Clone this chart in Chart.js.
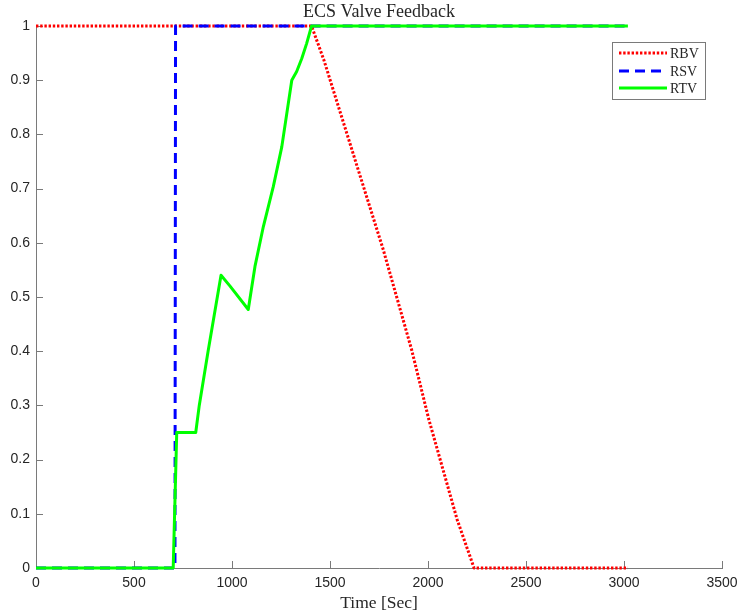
<!DOCTYPE html>
<html>
<head>
<meta charset="utf-8">
<title>ECS Valve Feedback</title>
<script src="https://cdn.jsdelivr.net/npm/chart.js@4/dist/chart.umd.min.js"></script>
<style>
  html, body { margin: 0; padding: 0; background: #ffffff; }
  #wrap { width: 737px; height: 614px; }
</style>
</head>
<body>
<div id="wrap"><canvas id="chart" width="737" height="614"></canvas></div>
<script>
// Valve feedback traces: time in seconds, position 0 (closed) .. 1 (open)
const rbvTime  = [0, 1406, 1469, 1628, 1772, 1917, 2005, 2149, 2235, 3020];
const rbvValue = [1, 1, 0.937, 0.753, 0.587, 0.402, 0.273, 0.089, 0, 0];

const rsvTime  = [0, 709, 712, 3020];
const rsvValue = [0, 0, 1, 1];

const rtvTime  = [0, 700, 718, 815, 833, 878, 944, 990, 1083, 1117, 1160, 1211, 1254, 1305, 1330, 1356, 1381, 1406, 3020];
const rtvValue = [0, 0, 0.25, 0.25, 0.30, 0.40, 0.54, 0.52, 0.477, 0.556, 0.630, 0.704, 0.777, 0.900, 0.916, 0.940, 0.968, 1, 1];

const xTicks = [0, 500, 1000, 1500, 2000, 2500, 3000, 3500];
const yTicks = [0, 0.1, 0.2, 0.3, 0.4, 0.5, 0.6, 0.7, 0.8, 0.9, 1];
const yTickLabels = ['0', '0.1', '0.2', '0.3', '0.4', '0.5', '0.6', '0.7', '0.8', '0.9', '1'];

const toPoints = (t, v) => t.map((x, i) => ({ x: x, y: v[i] }));

const AXIS_COLOR = '#7a7a7a';
const TEXT_COLOR = '#262626';
const SERIF = '"Liberation Serif", "Times New Roman", serif';
const SANS = '"Liberation Sans", Arial, Helvetica, sans-serif';

// Short tick marks pointing into the plot area, as in MATLAB-style axes
const inwardTicks = {
  id: 'inwardTicks',
  beforeDatasetsDraw(chart) {
    const { ctx, chartArea, scales } = chart;
    ctx.save();
    ctx.strokeStyle = AXIS_COLOR;
    ctx.lineWidth = 1;
    ctx.beginPath();
    scales.x.ticks.forEach(t => {
      const px = Math.round(scales.x.getPixelForValue(t.value)) + 0.5;
      ctx.moveTo(px, chartArea.bottom);
      ctx.lineTo(px, chartArea.bottom - 7);
    });
    scales.y.ticks.forEach(t => {
      const py = Math.round(scales.y.getPixelForValue(t.value)) + 0.5;
      ctx.moveTo(chartArea.left, py);
      ctx.lineTo(chartArea.left + 7, py);
    });
    ctx.stroke();
    ctx.restore();
  }
};

// Boxed legend in the upper right corner of the plot
const boxedLegend = {
  id: 'boxedLegend',
  afterDraw(chart) {
    const { ctx } = chart;
    const box = { x: 612, y: 42, w: 93, h: 57 };
    ctx.save();
    ctx.fillStyle = '#ffffff';
    ctx.fillRect(box.x, box.y, box.w, box.h);
    ctx.strokeStyle = AXIS_COLOR;
    ctx.lineWidth = 1;
    ctx.strokeRect(box.x + 0.5, box.y + 0.5, box.w, box.h);
    const rows = [53, 71, 88];
    ctx.font = '14px ' + SERIF;
    ctx.textBaseline = 'middle';
    ctx.textAlign = 'left';
    chart.data.datasets.forEach((ds, i) => {
      const y = rows[i];
      ctx.strokeStyle = ds.borderColor;
      ctx.lineWidth = ds.borderWidth;
      ctx.setLineDash(ds.borderDash || []);
      ctx.beginPath();
      ctx.moveTo(619, y);
      ctx.lineTo(667, y);
      ctx.stroke();
      ctx.setLineDash([]);
      ctx.fillStyle = TEXT_COLOR;
      ctx.fillText(ds.label, 670, y + 1);
    });
    ctx.restore();
  }
};

new Chart(document.getElementById('chart'), {
  type: 'line',
  data: {
    datasets: [
      {
        label: 'RBV',
        data: toPoints(rbvTime, rbvValue),
        borderColor: '#ff0000',
        borderWidth: 3,
        borderDash: [2.4, 1.8],
        clip: false,
        order: 3
      },
      {
        label: 'RSV',
        data: toPoints(rsvTime, rsvValue),
        borderColor: '#0000ff',
        borderWidth: 3,
        borderDash: [10, 6],
        clip: false,
        order: 2
      },
      {
        label: 'RTV',
        data: toPoints(rtvTime, rtvValue),
        borderColor: '#00ff00',
        borderWidth: 3,
        clip: false,
        order: 1
      }
    ]
  },
  options: {
    responsive: false,
    animation: false,
    elements: {
      point: { radius: 0, hoverRadius: 0 },
      line: { tension: 0, borderCapStyle: 'butt', borderJoinStyle: 'round', fill: false }
    },
    layout: { padding: { left: 0, right: 0, top: 0, bottom: 0 } },
    plugins: {
      legend: { display: false },
      tooltip: { enabled: false },
      title: {
        display: true,
        fullSize: false,
        text: 'ECS Valve Feedback',
        color: TEXT_COLOR,
        font: { family: SERIF, size: 18, weight: 'normal', lineHeight: 1.15 },
        padding: { top: 2, bottom: 3.3 }
      }
    },
    scales: {
      x: {
        type: 'linear',
        min: 0,
        max: 3500,
        afterBuildTicks: scale => { scale.ticks = xTicks.map(v => ({ value: v })); },
        afterFit: scale => { scale.height = 46; scale.paddingRight = 15; },
        grid: { display: false, drawTicks: false },
        border: { display: true, color: AXIS_COLOR, width: 1 },
        ticks: {
          color: TEXT_COLOR,
          font: { family: SANS, size: 14 },
          padding: 7,
          maxRotation: 0,
          autoSkip: false,
          callback: v => String(v)
        },
        title: {
          display: true,
          text: 'Time [Sec]',
          color: TEXT_COLOR,
          font: { family: SERIF, size: 17.5, weight: 'normal' },
          padding: { top: 0, bottom: 0 }
        }
      },
      y: {
        type: 'linear',
        min: 0,
        max: 1,
        afterBuildTicks: scale => { scale.ticks = yTicks.map(v => ({ value: v })); },
        afterFit: scale => { scale.width = 36; },
        grid: { display: false, drawTicks: false },
        border: { display: true, color: AXIS_COLOR, width: 1 },
        ticks: {
          color: TEXT_COLOR,
          font: { family: SANS, size: 14 },
          padding: 6,
          autoSkip: false,
          callback: v => yTickLabels[yTicks.indexOf(v)] ?? String(v)
        }
      }
    }
  },
  plugins: [inwardTicks, boxedLegend]
});
</script>
</body>
</html>
